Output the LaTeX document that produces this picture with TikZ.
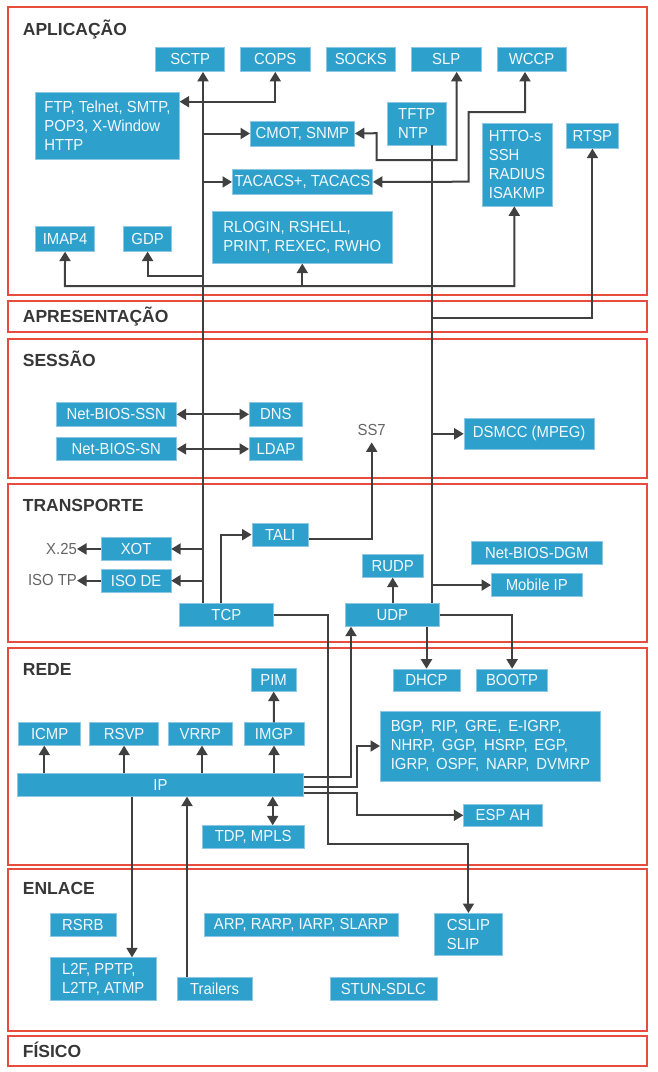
\documentclass[tikz,border=0pt]{standalone}
\usepackage{fontspec}
\setmainfont{Liberation Sans}[FakeStretch=0.93]
\newfontfamily\titlefont{Liberation Sans}
\usetikzlibrary{arrows.meta}
\definecolor{framered}{RGB}{231,76,60}
\definecolor{boxblue}{RGB}{46,160,204}
\definecolor{boxedge}{RGB}{140,200,228}
\definecolor{arrowgray}{RGB}{64,64,64}
\definecolor{titlegray}{RGB}{55,55,55}
\definecolor{notegray}{RGB}{100,100,100}
\newcommand\pbx[6]{\node[pbox,minimum width=#4pt,minimum height=#5pt] (#1) at (#2,#3) {#6};}
\begin{document}
\begin{tikzpicture}[x=1pt,y=-1pt,
  layer/.style={draw=framered,line width=2pt},
  ltitle/.style={anchor=base west,inner sep=0,font=\titlefont\bfseries\fontsize{17.5}{20}\selectfont,text=titlegray},
  pbox/.style={fill=boxblue,draw=boxedge,line width=0.6pt,text=white!94!boxblue,inner sep=0,anchor=north west,font=\fontsize{16}{19}\selectfont,align=left},
  note/.style={text=notegray,inner sep=0,font=\fontsize{16}{19}\selectfont},
  conn/.style={draw=arrowgray,line width=2pt},
  arr/.style={conn,-{Triangle[length=9.5pt,width=11pt]}},
  arrb/.style={conn,{Triangle[length=9.5pt,width=11pt]}-{Triangle[length=9.5pt,width=11pt]}},
]
\useasboundingbox (0,0) rectangle (657,1072);
% layers
\draw[layer] (8,7) rectangle (647,295);
\draw[layer] (8,301) rectangle (647,332);
\draw[layer] (8,339) rectangle (647,478);
\draw[layer] (8,484) rectangle (647,641.5);
\draw[layer] (8,648.3) rectangle (647,865);
\draw[layer] (8,869.3) rectangle (647,1030.7);
\draw[layer] (8,1035.7) rectangle (647,1065.7);
\node[ltitle] (tapl) at (22.7,35.7) {APLICAÇÃO};
\node[ltitle] (tapr) at (22.7,322.7) {APRESENTAÇÃO};
\node[ltitle] (tses) at (22.7,366.7) {SESSÃO};
\node[ltitle] (ttra) at (22.7,511) {TRANSPORTE};
\node[ltitle] (tred) at (22.7,675.7) {REDE};
\node[ltitle] (tenl) at (22.7,894) {ENLACE};
\node[ltitle] (tfis) at (22.7,1057) {FÍSICO};
% application
\pbx{SCTP}{155.3}{46.7}{69}{24.6}{SCTP}
\pbx{COPS}{240.3}{46.7}{69.4}{24.6}{COPS}
\pbx{SOCKS}{326}{46.7}{69}{24.6}{SOCKS}
\pbx{SLP}{411.3}{46.7}{69.4}{24.6}{SLP}
\pbx{WCCP}{496.7}{46.7}{69.3}{24.6}{WCCP}
\pbx{FTP}{35.3}{92.3}{143.7}{67}{FTP, Telnet, SMTP,\\POP3, X-Window\\HTTP}
\pbx{CMOT}{250}{120.7}{104.3}{25}{CMOT, SNMP}
\pbx{TAC}{232}{169.3}{140.3}{24.7}{TACACS+, TACACS}
\pbx{RLOG}{212.3}{210.7}{179.4}{52.3}{RLOGIN, RSHELL,\\PRINT, REXEC, RWHO}
\pbx{IMAP}{35.3}{226.3}{59}{24.7}{IMAP4}
\pbx{GDP}{123.3}{226.3}{48}{24.7}{GDP}
\pbx{TFTP}{387.3}{102}{58.4}{42.7}{TFTP\\NTP}
\pbx{HTTO}{481.7}{123.3}{70}{82.4}{HTTO-s\\SSH\\RADIUS\\ISAKMP}
\pbx{RTSP}{566.3}{123.3}{51.7}{24.7}{RTSP}
% session
\pbx{NBSSN}{55.8}{402.3}{120.3}{23.4}{Net-BIOS-SSN}
\pbx{NBSN}{55.8}{437.3}{120.3}{22.7}{Net-BIOS-SN}
\pbx{DNS}{249}{402.3}{53.3}{23.4}{DNS}
\pbx{LDAP}{249}{437.3}{53.3}{22.7}{LDAP}
\pbx{DSMCC}{463.7}{418.3}{130.4}{30.4}{DSMCC (MPEG)}
\node[note,anchor=base] (SS7) at (371.7,435) {SS7};
% transport
\pbx{TALI}{251.6}{523}{56.6}{22.7}{TALI}
\pbx{XOT}{101}{537.3}{69.6}{22.7}{XOT}
\pbx{ISODE}{101}{569}{69.6}{22.7}{ISO DE}
\pbx{TCP}{179}{603.3}{94}{22.7}{TCP}
\pbx{UDP}{345}{603.3}{94}{22.7}{UDP}
\pbx{RUDP}{361.8}{554.3}{61.2}{22.7}{RUDP}
\pbx{NBDGM}{471.3}{541}{130.4}{22.7}{Net-BIOS-DGM}
\pbx{MOB}{491}{573.3}{91}{23}{Mobile IP}
\node[note,anchor=base east] (X25) at (77,554) {X.25};
\node[note,anchor=base east] (ISOTP) at (77,585) {ISO TP};
% network
\pbx{PIM}{251}{668.3}{44.7}{22.7}{PIM}
\pbx{ICMP}{18.3}{722.3}{62}{22.7}{ICMP}
\pbx{RSVP}{89.3}{722.3}{69}{22.7}{RSVP}
\pbx{VRRP}{168}{722.3}{64}{22.7}{VRRP}
\pbx{IMGP}{243.7}{722.3}{60}{22.7}{IMGP}
\pbx{IP}{17}{773.3}{286.3}{22.7}{IP}
\pbx{TDP}{202}{825.3}{101.7}{23}{TDP, MPLS}
\pbx{DHCP}{392.7}{668.7}{67}{22.3}{DHCP}
\pbx{BOOTP}{476.3}{668.7}{71}{22.3}{BOOTP}
\pbx{BGP}{380}{710.7}{220.3}{70}{BGP,\, RIP,\, GRE,\, E-IGRP,\\NHRP,\, GGP,\, HSRP,\, EGP,\\IGRP,\, OSPF,\, NARP,\, DVMRP}
\pbx{ESP}{463.3}{803.7}{78.7}{22.6}{ESP AH}
% link
\pbx{RSRB}{49.5}{913}{66.2}{22.7}{RSRB}
\pbx{ARP}{204.2}{913}{193.3}{22.7}{ARP, RARP, IARP, SLARP}
\pbx{CSLIP}{434.4}{913}{67.5}{42.3}{CSLIP\\SLIP}
\pbx{L2F}{49.5}{957.3}{106.9}{42.7}{L2F, PPTP,\\L2TP, ATMP}
\pbx{TRAIL}{177}{977.3}{74.6}{22.7}{Trailers}
\pbx{STUN}{329.6}{977.3}{106.9}{22.7}{STUN-SDLC}
% helper coordinates
\coordinate (tcpx) at (203,0);
\coordinate (udpx) at (432.3,0);
\coordinate (ftpj) at (203,101.7);
\coordinate (slpa) at (456.7,160);
\coordinate (slpb) at (376.7,133.2);
\coordinate (wca) at (525,112);
\coordinate (wcb) at (468.7,181.7);
\coordinate (gdpj) at (203,276);
\coordinate (botl) at (64.8,286);
\coordinate (botr) at (514.3,286);
\coordinate (rtspj) at (432.3,318.3);
\coordinate (talij) at (221,0);
\coordinate (tcpa) at (327.5,844);
\coordinate (ipu) at (351,777.3);
\coordinate (ipb) at (357.3,786.7);
\coordinate (ipe) at (357.3,792.5);
\coordinate (xicmp) at (44.3,0);
\coordinate (xvrrp) at (202,0);
\coordinate (xtdp) at (272.7,0);
\coordinate (xl2f) at (132,0);
\coordinate (xtr) at (187,0);
% application connectors
\draw[arr] (TCP.north -| tcpx) -- (SCTP.south -| tcpx);
\draw[arrb] (FTP.east |- ftpj) -| (COPS.south);
\draw[arr] (CMOT.west -| tcpx) -- (CMOT.west);
\draw[arr] (TAC.west -| tcpx) -- (TAC.west);
\draw[arrb] (SLP.south -| slpa) -- (slpa) -| (slpb) -- (CMOT.east);
\draw[arrb] (WCCP.south -| wca) -- (wca) -| (wcb) -- (TAC.east);
\draw[arr] (gdpj) -| (GDP.south);
\draw[arrb] (IMAP.south) -- (botl) -- (botr) -- (HTTO.south -| botr);
\draw[arr] (RLOG.south |- botl) -- (RLOG.south);
\draw[arr] (rtspj) -| (RTSP.south);
\draw[conn] (TFTP.south -| udpx) -- (UDP.north -| udpx);
% session connectors
\draw[arr] (DSMCC.west -| udpx) -- (DSMCC.west);
\draw[arrb] (NBSSN.east) -- (DNS.west);
\draw[arrb] (NBSN.east) -- (LDAP.west);
\draw[arr] ([yshift=-4pt]TALI.east) -| ([yshift=-7pt]SS7.south);
% transport connectors
\draw[arr] (TCP.north -| talij) |- (TALI.west);
\draw[arr] (XOT.east -| tcpx) -- (XOT.east);
\draw[arr] (ISODE.east -| tcpx) -- (ISODE.east);
\draw[arr] (XOT.west) -- (XOT.west -| X25.east);
\draw[arr] (ISODE.west) -- (ISODE.west -| ISOTP.east);
\draw[arr] (UDP.north -| RUDP.south) -- (RUDP.south);
\draw[arr] (MOB.west -| udpx) -- (MOB.west);
\draw[arr] (TCP.east) -| (tcpa) -| (CSLIP.north);
\draw[arr] (UDP.east) -| (BOOTP.north);
\draw[arr] (DHCP.north |- UDP.south) -- (DHCP.north);
% network connectors
\draw[arr] (IP.east |- ipu) -- (ipu) -- (UDP.south -| ipu);
\draw[arr] (IP.east |- ipb) -- (ipb) |- (BGP.west);
\draw[arr] (IP.east |- ipe) -- (ipe) |- (ESP.west);
\draw[arr] (IP.north -| xicmp) -- (ICMP.south -| xicmp);
\draw[arr] (IP.north -| RSVP.south) -- (RSVP.south);
\draw[arr] (IP.north -| xvrrp) -- (VRRP.south -| xvrrp);
\draw[arr] (IP.north -| IMGP.south) -- (IMGP.south);
\draw[arr] (IMGP.north) -- (PIM.south);
\draw[arrb] (IP.south -| xtdp) -- (TDP.north -| xtdp);
\draw[arr] (IP.south -| xl2f) -- (L2F.north -| xl2f);
\draw[arr] (TRAIL.north -| xtr) -- (IP.south -| xtr);
\end{tikzpicture}
\end{document}
